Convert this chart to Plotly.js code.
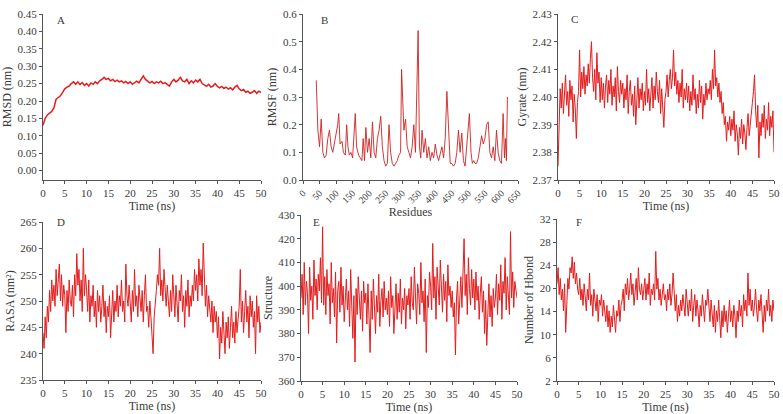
<!DOCTYPE html>
<html>
<head>
<meta charset="utf-8">
<script src="https://cdn.plot.ly/plotly-3.0.1.min.js"></script>
<style>html,body{margin:0;padding:0;background:#fff;}#chart{width:783px;height:414px;}</style>
</head>
<body>
<div id="chart"></div>
<script>
// ---- Data ----
// A: RMSD (nm), every 0.5 ns from 0 to 50 ns
const rmsd = [
0.130,0.150,0.160,0.165,0.170,0.180,0.205,0.210,0.215,0.225,
0.235,0.240,0.243,0.250,0.255,0.248,0.255,0.247,0.253,0.245,
0.250,0.243,0.252,0.248,0.255,0.250,0.258,0.262,0.268,0.262,
0.265,0.258,0.262,0.256,0.260,0.255,0.258,0.252,0.256,0.250,
0.255,0.248,0.253,0.257,0.252,0.262,0.272,0.262,0.258,0.252,
0.256,0.250,0.255,0.252,0.257,0.250,0.253,0.248,0.243,0.255,
0.262,0.255,0.260,0.268,0.258,0.255,0.262,0.250,0.258,0.252,
0.260,0.255,0.262,0.250,0.245,0.242,0.248,0.240,0.243,0.250,
0.242,0.238,0.242,0.236,0.240,0.234,0.238,0.232,0.240,0.245,
0.235,0.230,0.233,0.225,0.228,0.222,0.225,0.230,0.222,0.228,
0.225];

// B: RMSF (nm) per residue
const residues = [40,45,50,55,60,65,70,75,80,85,90,95,100,105,108,112,118,122,128,132,136,140,145,150,158,162,168,172,178,182,186,190,195,200,205,210,215,220,225,230,235,240,245,250,255,260,265,270,275,280,285,290,295,298,305,310,315,320,325,330,335,340,345,348,352,356,360,365,370,375,380,385,390,395,400,405,410,415,420,425,430,435,440,445,450,455,460,465,470,475,480,485,490,495,503,508,512,516,520,525,530,535,540,545,550,555,560,565,570,575,580,585,590,595,600,605,609,612,615,618];
const rmsf = [0.36,0.18,0.12,0.22,0.10,0.08,0.09,0.15,0.18,0.12,0.10,0.13,0.16,0.20,0.24,0.13,0.14,0.10,0.09,0.20,0.12,0.09,0.10,0.08,0.24,0.12,0.09,0.08,0.07,0.15,0.07,0.19,0.10,0.15,0.08,0.21,0.10,0.08,0.15,0.18,0.23,0.12,0.07,0.05,0.06,0.20,0.10,0.06,0.05,0.06,0.07,0.09,0.10,0.40,0.18,0.22,0.12,0.10,0.08,0.12,0.20,0.10,0.38,0.54,0.12,0.08,0.18,0.10,0.15,0.08,0.12,0.07,0.10,0.08,0.13,0.09,0.07,0.10,0.12,0.08,0.15,0.32,0.20,0.06,0.06,0.05,0.06,0.10,0.18,0.10,0.17,0.07,0.05,0.12,0.24,0.10,0.06,0.07,0.06,0.06,0.08,0.12,0.16,0.13,0.15,0.20,0.21,0.10,0.08,0.12,0.07,0.18,0.10,0.07,0.06,0.24,0.08,0.15,0.07,0.30];

// C: Radius of gyration (nm), every 0.25 ns
const gyrate = [
2.375,2.392,2.403,2.396,2.405,2.394,2.400,2.408,2.397,2.402,2.393,2.406,2.399,2.404,2.391,2.401,2.396,2.385,2.398,2.402,
2.417,2.400,2.409,2.403,2.411,2.401,2.408,2.404,2.412,2.405,2.414,2.420,2.407,2.402,2.410,2.399,2.416,2.405,2.409,2.398,
2.407,2.399,2.405,2.396,2.404,2.408,2.398,2.406,2.401,2.410,2.397,2.404,2.400,2.407,2.395,2.411,2.402,2.398,2.406,2.401,
2.405,2.396,2.403,2.399,2.408,2.394,2.402,2.406,2.397,2.401,2.393,2.404,2.390,2.400,2.407,2.396,2.403,2.399,2.405,2.395,
2.402,2.397,2.410,2.398,2.403,2.395,2.400,2.407,2.396,2.404,2.399,2.409,2.402,2.398,2.406,2.394,2.403,2.397,2.389,2.399,
2.402,2.408,2.400,2.406,2.410,2.403,2.407,2.417,2.404,2.409,2.401,2.406,2.398,2.405,2.400,2.410,2.396,2.403,2.399,2.405,
2.398,2.404,2.395,2.402,2.397,2.408,2.399,2.403,2.394,2.401,2.396,2.406,2.398,2.404,2.392,2.401,2.397,2.405,2.399,2.403,
2.401,2.406,2.399,2.410,2.403,2.417,2.404,2.407,2.400,2.405,2.398,2.402,2.394,2.398,2.390,2.393,2.384,2.391,2.388,2.393,
2.386,2.392,2.388,2.395,2.384,2.390,2.387,2.379,2.389,2.385,2.392,2.383,2.390,2.387,2.381,2.389,2.394,2.386,2.391,2.396,
2.398,2.402,2.408,2.395,2.389,2.397,2.378,2.391,2.386,2.394,2.389,2.397,2.385,2.392,2.388,2.398,2.386,2.393,2.389,2.395,
2.380];

// D: RASA (nm²), every 0.25 ns
const rasa = [
244,241,247,243,249,246,252,248,254,250,253,249,256,251,254,257,250,255,249,253,
251,244,252,248,254,250,249,253,247,255,251,259,253,256,250,254,248,260,251,255,
252,248,254,246,251,249,253,247,250,245,252,248,251,246,249,253,247,250,244,249,
247,251,243,249,252,246,250,248,253,247,251,249,254,248,250,246,257,251,249,253,
250,246,252,248,256,249,251,247,253,250,248,252,246,251,255,248,249,245,250,247,
244,240,247,249,252,255,253,260,251,254,250,256,252,249,253,250,247,252,248,255,
251,247,253,249,246,252,250,255,248,251,245,252,249,254,247,251,249,253,250,256,
252,255,250,258,253,256,251,261,254,249,253,247,251,249,246,250,244,249,246,248,
243,247,239,245,242,248,244,240,246,243,247,241,245,249,243,246,242,248,244,247,
249,256,246,250,244,248,252,246,249,243,251,247,250,245,248,240,251,246,249,244,
246];

// E: Secondary structure count, every 0.25 ns
const structure = [
395,405,388,410,392,402,397,380,408,394,400,386,411,396,403,390,405,398,412,393,
425,392,404,388,407,396,401,384,410,393,399,387,406,376,398,402,389,408,392,400,
385,396,403,390,398,383,407,392,378,396,368,399,388,404,391,386,398,381,402,393,
397,384,401,390,372,398,386,403,392,380,396,389,405,383,394,399,387,402,390,395,
388,398,383,404,391,396,380,394,401,386,397,389,403,384,395,390,399,382,396,392,
399,386,404,393,390,408,395,384,401,397,388,410,393,398,385,403,372,396,391,406,
400,390,418,395,404,386,408,397,392,411,399,389,405,394,402,385,409,396,400,391,
398,387,393,371,395,402,384,398,404,391,410,420,396,405,388,412,399,392,407,395,
403,390,406,394,400,386,397,404,389,398,380,394,375,392,401,387,396,383,399,391,
395,405,388,401,394,409,386,402,397,412,390,404,396,388,423,395,406,391,402,398,
395];

// F: Number of H-bonds, every 0.25 ns
const hbond = [
20,23,18,21,17,19,15,20,11,18,21,19,23,22,25,21,24,20,22,19,
18,21,17,19,16,20,18,15,19,17,22,16,18,14,19,17,15,18,13,17,
16,18,14,17,15,13,16,12,15,11,14,12,16,13,11,15,14,17,13,16,
17,19,15,20,18,21,17,19,22,18,20,16,19,21,17,23,19,18,20,17,
19,21,17,20,18,22,16,19,18,20,17,26,19,21,17,19,16,18,20,17,
18,15,19,17,20,16,18,22,17,15,18,13,16,14,17,15,18,16,14,19,
16,14,17,15,19,13,16,18,14,17,15,12,16,14,18,15,13,17,16,19,
15,13,17,14,12,16,11,15,13,17,14,10,15,12,16,13,15,11,14,17,
13,15,12,16,14,10,15,13,17,14,16,12,18,15,17,14,22,16,19,15,
17,14,16,19,15,13,17,15,18,14,11,16,13,17,15,19,14,16,13,17,
15];

// Tick labels
const hbondTickText = ["2","6","10","14","20","24","28","32"];
const panelLetters = ["A","B","C","D","E","F"];

// ---- Styling ----
const FONT = "Liberation Serif";
const RED = "rgb(228,28,28)";
const W = 783, H = 414;
function dx(a,b){return [a/W,b/W];}
function dy(top,bot){return [1-bot/H,1-top/H];}

function axisBase(extra){
  return Object.assign({
    showline:true, linecolor:"#555", linewidth:1, ticks:"outside", ticklen:3, tickwidth:1,
    tickcolor:"#555", showgrid:false, zeroline:false, fixedrange:true,
    tickfont:{family:FONT,size:11,color:"#3a3a3a"}
  }, extra);
}
function ttl(t, standoff){return {text:t, font:{family:FONT,size:12,color:"#3a3a3a"}, standoff:standoff};}

const tLine = {color:RED, width:1.0};
const traces = [
  {type:"scatter", mode:"lines", x0:0, dx:0.5, y:rmsd, xaxis:"x", yaxis:"y", line:{color:RED,width:1.5}},
  {type:"scatter", mode:"lines", x:residues, y:rmsf, xaxis:"x2", yaxis:"y2", line:{color:"rgb(205,35,35)",width:0.9}},
  {type:"scatter", mode:"lines", x0:0, dx:0.25, y:gyrate, xaxis:"x3", yaxis:"y3", line:tLine},
  {type:"scatter", mode:"lines", x0:0, dx:0.25, y:rasa, xaxis:"x4", yaxis:"y4", line:tLine},
  {type:"scatter", mode:"lines", x0:0, dx:0.25, y:structure, xaxis:"x5", yaxis:"y5", line:tLine},
  {type:"scatter", mode:"lines", x0:0, dx:0.25, y:hbond, xaxis:"x6", yaxis:"y6", line:tLine}
];

const timeAxis = (dom, anchor) => axisBase({domain:dom, anchor:anchor, range:[0,50], tickvals:[0,5,10,15,20,25,30,35,40,45,50], title:ttl("Time (ns)",0)});

const hbTickVals = hbondTickText.map((_,i)=>2+i*30/7);

const layout = {
  width:W, height:H, margin:{l:0,r:0,t:0,b:0}, showlegend:false,
  paper_bgcolor:"#fff", plot_bgcolor:"#fff",
  font:{family:FONT,color:"#3a3a3a"},
  xaxis: timeAxis(dx(43,261),"y"),
  yaxis: axisBase({domain:dy(14,180), anchor:"x", range:[-0.027,0.45], tickvals:[0,0.05,0.1,0.15,0.2,0.25,0.3,0.35,0.4,0.45], tickformat:".2f", title:ttl("RMSD (nm)",3)}),
  xaxis2: axisBase({domain:dx(303,518), anchor:"y2", range:[0,650], dtick:50, tick0:0, tickangle:-45,
     tickfont:{family:FONT,size:9.5,color:"#3a3a3a"}, title:ttl("Residues",0)}),
  yaxis2: axisBase({domain:dy(14,180), anchor:"x2", range:[0,0.6], dtick:0.1, tickformat:".1f", title:ttl("RMSF (nm)",3)}),
  xaxis3: timeAxis(dx(558,774),"y3"),
  yaxis3: axisBase({domain:dy(14,180), anchor:"x3", range:[2.37,2.43], dtick:0.01, tickformat:".2f", title:ttl("Gyrate (nm)",3)}),
  xaxis4: timeAxis(dx(43,261),"y4"),
  yaxis4: axisBase({domain:dy(222,380), anchor:"x4", range:[235,265], dtick:5, title:ttl("RASA (nm²)",3)}),
  xaxis5: timeAxis(dx(301,517),"y5"),
  yaxis5: axisBase({domain:dy(215,381), anchor:"x5", range:[360,430], dtick:10, title:ttl("Structure",3)}),
  xaxis6: timeAxis(dx(557,774),"y6"),
  yaxis6: axisBase({domain:dy(219,381), anchor:"x6", range:[2,32], tickvals:hbTickVals, ticktext:hbondTickText, title:ttl("Number of Hbond",3)}),
  annotations: [
    [61,20],[324,20],[574,19],[61,222],[316,222],[579,222]
  ].map((p,i)=>({xref:"paper", yref:"paper", x:p[0]/W, y:1-p[1]/H, text:panelLetters[i], showarrow:false,
     xanchor:"center", yanchor:"middle", font:{family:FONT,size:11,color:"#3a3a3a"}}))
};

Plotly.newPlot("chart", traces, layout, {staticPlot:true, displayModeBar:false});
</script>
</body>
</html>
